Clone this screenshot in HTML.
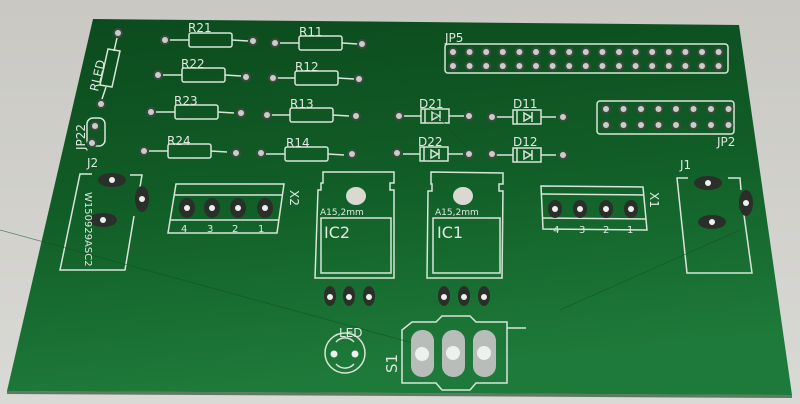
<!DOCTYPE html>
<html><head><meta charset="utf-8"><style>
html,body{margin:0;padding:0;background:#cfcfcb;}
svg{display:block}
text{font-family:"DejaVu Sans","Liberation Sans",sans-serif;fill:#dfe9df}
</style></head><body>
<svg width="800" height="404" viewBox="0 0 800 404" xmlns="http://www.w3.org/2000/svg">
<defs>
<linearGradient id="bg" x1="0" y1="0" x2="0" y2="1">
<stop offset="0" stop-color="#c9c8c3"/><stop offset="1" stop-color="#d9d9d5"/></linearGradient>
<linearGradient id="g" x1="0" y1="0" x2="0.2" y2="1">
<stop offset="0" stop-color="#0c4a1d"/><stop offset="0.5" stop-color="#115d27"/><stop offset="1" stop-color="#1e7a3a"/></linearGradient>
<g id="pad"><circle r="5" fill="#3d4a3f"/><circle r="3" fill="#c8cec8"/></g>
</defs>
<rect width="800" height="404" fill="url(#bg)"/>
<polygon points="93,19 739,25 792,395 7,391" fill="url(#g)"/>
<polygon points="7,391 792,395 792,398 7,394" fill="#0b3a18" opacity=".6"/>
<g stroke="#d8e6d8" stroke-width="1.5" fill="none">
<g id="res">
<line x1="170" y1="40" x2="189" y2="40"/><rect x="189" y="33" width="43" height="14" rx="2"/><line x1="232" y1="40" x2="248" y2="41"/>
</g>
<use href="#res" x="110" y="3"/>
<use href="#res" x="-7" y="35"/><use href="#res" x="106" y="38"/>
<use href="#res" x="-14" y="72"/><use href="#res" x="101" y="75"/>
<use href="#res" x="-21" y="111"/><use href="#res" x="96" y="114"/>
<line x1="117" y1="38" x2="114" y2="51"/><polygon points="108,49 120,51 112,87 100,85"/><line x1="106" y1="87" x2="102" y2="99"/>
<g id="dio"><line x1="404" y1="116" x2="421" y2="116"/><rect x="421" y="109" width="28" height="14"/><line x1="425" y1="109" x2="425" y2="123"/><line x1="449" y1="116" x2="464" y2="116"/>
<polygon points="432,112 432,120 439,116" /><line x1="440" y1="111" x2="440" y2="121"/></g>
<use href="#dio" x="92" y="1"/><use href="#dio" x="-1" y="38"/><use href="#dio" x="92" y="39"/>
<rect x="445" y="44" width="283" height="29" rx="3"/>
<rect x="597" y="101" width="137" height="33" rx="3"/>
<rect x="87" y="118" width="18" height="28" rx="6"/>
<polyline points="92,174 80,174 60,270 125,270 134,216"/><polyline points="130,175 142,175 140,187"/>
<polygon points="176,184 284,184 277,233 168,233"/><line x1="175" y1="195" x2="283" y2="195"/><line x1="170" y1="220" x2="279" y2="220"/>
<polygon points="541,186 643,187 647,230 543,229"/><line x1="541" y1="194" x2="644" y2="195"/><line x1="542" y1="218" x2="646" y2="219"/>
<polyline points="688,178 677,178 687,273 752,273 744,215"/><polyline points="728,178 740,178 741,190"/>
<path d="M323,172 L394,172 L394,183 L390,183 L390,190 L394,190 L394,278 L315,278 L318,190 L321,190 L321,183 L323,183 Z"/>
<rect x="321" y="218" width="70" height="55"/>
<path d="M431,172 L503,173 L503,184 L499,184 L499,191 L503,191 L502,278 L427,278 L428,191 L432,191 L432,184 L431,184 Z"/>
<rect x="433" y="218" width="67" height="55"/>
<circle cx="345" cy="353" r="20"/><path d="M336,342 A12 12 0 0 1 354,342 M336,364 A12 12 0 0 0 354,364"/>
<path d="M412,322 L436,322 L442,316 L470,316 L476,322 L507,322 L507,383 L476,383 L470,390 L442,390 L436,383 L402,383 L402,330 Z"/>
<line x1="507" y1="328" x2="526" y2="328"/>
</g>
<g stroke="#0d5020" stroke-width="0.8" fill="none" opacity=".6">
<line x1="368" y1="44" x2="470" y2="150"/><line x1="0" y1="230" x2="420" y2="345"/><line x1="740" y1="230" x2="560" y2="310"/>
</g>
<g>
<use href="#pad" x="165" y="40"/><use href="#pad" x="253" y="41"/><use href="#pad" x="275" y="43"/><use href="#pad" x="362" y="44"/>
<use href="#pad" x="158" y="75"/><use href="#pad" x="246" y="77"/><use href="#pad" x="273" y="78"/><use href="#pad" x="359" y="79"/>
<use href="#pad" x="151" y="112"/><use href="#pad" x="241" y="113"/><use href="#pad" x="267" y="115"/><use href="#pad" x="356" y="116"/>
<use href="#pad" x="144" y="151"/><use href="#pad" x="236" y="153"/><use href="#pad" x="261" y="153"/><use href="#pad" x="352" y="154"/>
<use href="#pad" x="118" y="33"/><use href="#pad" x="101" y="104"/>
<use href="#pad" x="399" y="116"/><use href="#pad" x="469" y="116"/><use href="#pad" x="492" y="117"/><use href="#pad" x="563" y="117"/>
<use href="#pad" x="397" y="153"/><use href="#pad" x="469" y="154"/><use href="#pad" x="492" y="154"/><use href="#pad" x="563" y="155"/>
<use href="#pad" x="95" y="126"/><use href="#pad" x="92" y="143"/>
</g>
<g id="jp5">
<use href="#pad" x="453" y="52"/><use href="#pad" x="453" y="66"/>
</g>
<use href="#jp5" x="16.6"/><use href="#jp5" x="33.2"/><use href="#jp5" x="49.8"/><use href="#jp5" x="66.4"/><use href="#jp5" x="83"/><use href="#jp5" x="99.6"/><use href="#jp5" x="116.2"/><use href="#jp5" x="132.8"/><use href="#jp5" x="149.4"/><use href="#jp5" x="166"/><use href="#jp5" x="182.6"/><use href="#jp5" x="199.2"/><use href="#jp5" x="215.8"/><use href="#jp5" x="232.4"/><use href="#jp5" x="249"/><use href="#jp5" x="265.6"/>
<g id="jp2"><use href="#pad" x="606" y="109"/><use href="#pad" x="606" y="125"/></g>
<use href="#jp2" x="17.5"/><use href="#jp2" x="35"/><use href="#jp2" x="52.5"/><use href="#jp2" x="70"/><use href="#jp2" x="87.5"/><use href="#jp2" x="105"/><use href="#jp2" x="122.5"/>
<g fill="#2a2f2a">
<ellipse cx="112" cy="180" rx="14" ry="7"/><ellipse cx="142" cy="199" rx="7" ry="13"/><ellipse cx="103" cy="220" rx="14" ry="7"/>
<ellipse cx="708" cy="183" rx="14" ry="7"/><ellipse cx="746" cy="203" rx="7" ry="13"/><ellipse cx="712" cy="222" rx="14" ry="7"/>
<ellipse cx="187" cy="208" rx="8" ry="10"/><ellipse cx="212" cy="208" rx="8" ry="10"/><ellipse cx="238" cy="208" rx="8" ry="10"/><ellipse cx="265" cy="208" rx="8" ry="10"/>
<ellipse cx="555" cy="209" rx="7" ry="9"/><ellipse cx="580" cy="209" rx="7" ry="9"/><ellipse cx="606" cy="209" rx="7" ry="9"/><ellipse cx="631" cy="209" rx="7" ry="9"/>
<ellipse cx="330" cy="296" rx="6" ry="10"/><ellipse cx="349" cy="296" rx="6" ry="10"/><ellipse cx="369" cy="296" rx="6" ry="10"/>
<ellipse cx="444" cy="296" rx="6" ry="10"/><ellipse cx="464" cy="296" rx="6" ry="10"/><ellipse cx="484" cy="296" rx="6" ry="10"/>
</g>
<g fill="#b9bdb9">
<rect x="411" y="330" width="23" height="47" rx="11"/><rect x="442" y="330" width="23" height="47" rx="11"/><rect x="473" y="330" width="23" height="47" rx="11"/>
</g>
<g fill="#eef0ee">
<circle cx="422" cy="354" r="7"/><circle cx="453" cy="353" r="7"/><circle cx="484" cy="353" r="7"/>
<circle cx="112" cy="180" r="3"/><circle cx="142" cy="199" r="3"/><circle cx="103" cy="220" r="3"/>
<circle cx="708" cy="183" r="3"/><circle cx="746" cy="203" r="3"/><circle cx="712" cy="222" r="3"/>
<circle cx="187" cy="208" r="3"/><circle cx="212" cy="208" r="3"/><circle cx="238" cy="208" r="3"/><circle cx="265" cy="208" r="3"/>
<circle cx="555" cy="209" r="3"/><circle cx="580" cy="209" r="3"/><circle cx="606" cy="209" r="3"/><circle cx="631" cy="209" r="3"/>
<circle cx="330" cy="297" r="3"/><circle cx="349" cy="297" r="3"/><circle cx="369" cy="297" r="3"/>
<circle cx="444" cy="297" r="3"/><circle cx="464" cy="297" r="3"/><circle cx="484" cy="297" r="3"/>
<circle cx="334" cy="354" r="3.5"/><circle cx="355" cy="354" r="3.5"/>
</g>
<g fill="#d9d9cf"><ellipse cx="356" cy="196" rx="10" ry="9"/><ellipse cx="463" cy="196" rx="10" ry="9"/></g>
<g font-size="12">
<text x="188" y="32">R21</text><text x="299" y="36">R11</text>
<text x="181" y="68">R22</text><text x="295" y="71">R12</text>
<text x="174" y="105">R23</text><text x="290" y="108">R13</text>
<text x="167" y="145">R24</text><text x="286" y="147">R14</text>
<text x="419" y="108">D21</text><text x="513" y="108">D11</text>
<text x="418" y="146">D22</text><text x="513" y="146">D12</text>
<text x="445" y="42">JP5</text><text x="717" y="146">JP2</text>
<text x="87" y="167">J2</text><text x="680" y="169">J1</text>
<text x="339" y="337">LED</text>
<text x="181" y="232" font-size="10">4</text><text x="207" y="232" font-size="10">3</text><text x="232" y="232" font-size="10">2</text><text x="258" y="232" font-size="10">1</text>
<text x="550" y="233" font-size="10">·4</text><text x="579" y="233" font-size="10">3</text><text x="603" y="233" font-size="10">2</text><text x="627" y="233" font-size="10">1</text>
<text x="320" y="215" font-size="9">A15,2mm</text><text x="435" y="215" font-size="9">A15,2mm</text>
<text x="324" y="238" font-size="16">IC2</text><text x="437" y="238" font-size="16">IC1</text>
<text transform="translate(98,92) rotate(-77)">RLED</text>
<text transform="translate(85,150) rotate(-90)">JP22</text>
<text transform="translate(290,190) rotate(90)">X2</text>
<text transform="translate(650,192) rotate(90)">X1</text>
<text transform="translate(85,192) rotate(90)" font-size="10">W150929ASC2</text>
<text transform="translate(397,373) rotate(-90)" font-size="15">S1</text>
</g>
</svg>
</body></html>
